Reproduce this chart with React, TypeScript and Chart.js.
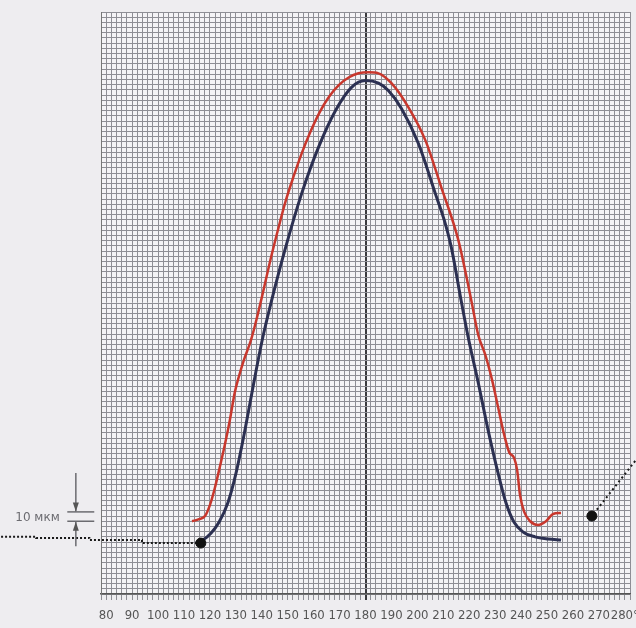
import React, { useEffect, useRef } from 'react';
import { Chart, registerables } from 'chart.js';

Chart.register(...registerables);

// ---- axis description ----
const xMin = 78;
const xMax = 282;
const xGridStep = 2;
const yMin = 0;
const yMax = 112;
const centerLineValue = 180;
const xLabelValues = [80, 90, 100, 110, 120, 130, 140, 150, 160, 170, 180, 190, 200, 210, 220, 230, 240, 250, 260, 270, 280];
const xLabelTexts = ['80', '90', '100', '110', '120', '130', '140', '150', '160', '170', '180', '190', '200', '210', '220', '230', '240', '250', '260', '270', '280°'];

// ---- profile curves (x: angle units, y: grid cells) ----
const blueX = [114.6, 117.3, 120.4, 123.5, 126.9, 130.0, 133.5, 136.9, 140.4, 143.8, 149.2, 155.4, 161.9, 168.5, 174.6, 180.0, 185.0, 188.8, 193.8, 200.4, 206.9, 210.4, 213.1, 216.5, 219.6, 223.5, 227.3, 231.2, 234.2, 237.3, 240.8, 245.4, 250.4, 255.4];
const blueY = [9.8, 10.4, 11.7, 13.8, 17.5, 23.1, 31.5, 40.6, 49.4, 56.5, 66.7, 77.1, 86.0, 93.1, 97.5, 98.8, 98.3, 96.9, 93.5, 86.7, 77.1, 71.9, 66.7, 57.5, 49.4, 40.6, 31.5, 23.1, 17.5, 13.8, 11.9, 11.0, 10.6, 10.4];

const redX = [113.1, 115.8, 118.1, 120.0, 121.9, 123.8, 125.8, 127.7, 129.6, 131.2, 133.1, 135.8, 138.1, 140.4, 143.1, 146.2, 149.2, 152.3, 155.4, 158.8, 162.3, 165.8, 169.6, 173.5, 177.3, 181.2, 185.0, 190.0, 196.5, 203.1, 209.2, 215.8, 220.8, 223.5, 226.2, 228.8, 231.2, 233.5, 235.4, 237.3, 238.5, 239.6, 241.2, 243.5, 246.5, 249.6, 252.3, 255.4];
const redY = [14.0, 14.4, 15.0, 17.1, 20.4, 24.4, 28.8, 33.5, 38.8, 41.9, 45.0, 48.8, 53.1, 57.9, 63.8, 70.0, 75.6, 80.4, 84.8, 89.0, 92.7, 95.6, 97.9, 99.4, 100.2, 100.4, 100.2, 98.3, 93.7, 87.3, 78.3, 68.1, 56.5, 49.8, 46.0, 41.2, 35.8, 30.6, 27.3, 26.2, 23.8, 19.0, 15.8, 14.0, 13.3, 14.0, 15.4, 15.6];

// ---- markers & leader lines ----
const dotX = [116.5, 267.3];
const dotY = [9.8, 15.0];
const leftLeaderX = [116.5, 93.8, 93.8, 73.5, 73.5, 53.0, 53.0, 38.0];
const leftLeaderY = [9.8, 9.8, 10.4, 10.4, 10.8, 10.8, 11.0, 11.0];
const rightLeaderX = [284.0, 267.3];
const rightLeaderY = [25.6, 15.0];

// ---- scale-bar annotation ----
const scaleText = '10 мкм';
const scaleTextX = 53.5;
const scaleTextY = 14.7;
const scaleBarX = [65.0, 75.4];
const scaleBarY = [15.8, 14.0];
const scaleArrowX = 68.3;
const scaleArrowTop = [23.3, 15.9];
const scaleArrowBottom = [9.2, 13.9];

const pts = (xs: number[], ys: number[]) => xs.map((x, i) => ({ x, y: ys[i] }));

const xGridTicks: number[] = [];
for (let v = xMin; v <= xMax; v += xGridStep) xGridTicks.push(v);

const paperPlugin = {
  id: 'paper',
  beforeDraw(chart: any) {
    const { ctx, chartArea, width, height } = chart;
    ctx.save();
    ctx.fillStyle = '#eeedf0';
    ctx.fillRect(0, 0, width, height);
    ctx.fillStyle = '#f4f3f6';
    ctx.fillRect(chartArea.left, chartArea.top, chartArea.right - chartArea.left, chartArea.bottom - chartArea.top);
    ctx.restore();
  },
  afterDraw(chart: any) {
    const { ctx } = chart;
    const xs = chart.scales.x;
    const ys = chart.scales.y;
    const px = (v: number) => xs.getPixelForValue(v);
    const py = (v: number) => ys.getPixelForValue(v);
    ctx.save();
    ctx.fillStyle = '#6b6b70';
    ctx.font = '12px "DejaVu Sans", sans-serif';
    ctx.textAlign = 'center';
    ctx.textBaseline = 'middle';
    ctx.fillText(scaleText, px(scaleTextX), py(scaleTextY));
    ctx.strokeStyle = '#6b6b70';
    ctx.lineWidth = 1.5;
    scaleBarY.forEach((yv) => {
      ctx.beginPath();
      ctx.moveTo(px(scaleBarX[0]), py(yv));
      ctx.lineTo(px(scaleBarX[1]), py(yv));
      ctx.stroke();
    });
    const ax = px(scaleArrowX);
    const drawArrow = (fromV: number, toV: number) => {
      const y1 = py(fromV);
      const y2 = py(toV);
      const dir = y2 > y1 ? 1 : -1;
      ctx.beginPath();
      ctx.moveTo(ax, y1);
      ctx.lineTo(ax, y2);
      ctx.stroke();
      ctx.beginPath();
      ctx.moveTo(ax, y2);
      ctx.lineTo(ax - 3, y2 - dir * 9);
      ctx.lineTo(ax + 3, y2 - dir * 9);
      ctx.closePath();
      ctx.fillStyle = '#555';
      ctx.fill();
    };
    drawArrow(scaleArrowTop[0], scaleArrowTop[1]);
    drawArrow(scaleArrowBottom[0], scaleArrowBottom[1]);
    ctx.restore();
  },
};

export default function App() {
  const ref = useRef<HTMLCanvasElement | null>(null);
  useEffect(() => {
    if (!ref.current) return;
    const chart = new Chart(ref.current, {
      type: 'line',
      data: {
        datasets: [
          {
            label: 'dots',
            data: pts(dotX, dotY),
            showLine: false,
            pointRadius: 5,
            pointBackgroundColor: '#111',
            pointBorderColor: '#111',
            clip: false,
          } as any,
          {
            label: 'leaderL',
            data: pts(leftLeaderX, leftLeaderY),
            borderColor: '#1a1a1a',
            borderWidth: 2,
            borderDash: [2, 2],
            pointRadius: 0,
            tension: 0,
            clip: false,
          } as any,
          {
            label: 'leaderR',
            data: pts(rightLeaderX, rightLeaderY),
            borderColor: '#1a1a1a',
            borderWidth: 2,
            borderDash: [2, 3],
            pointRadius: 0,
            tension: 0,
            clip: false,
          } as any,
          {
            label: 'red',
            data: pts(redX, redY),
            borderColor: '#c8372d',
            borderWidth: 2.5,
            pointRadius: 0,
            cubicInterpolationMode: 'monotone',
          } as any,
          {
            label: 'blue',
            data: pts(blueX, blueY),
            borderColor: '#2c3052',
            borderWidth: 3,
            pointRadius: 0,
            cubicInterpolationMode: 'monotone',
          } as any,
        ],
      },
      options: {
        animation: false,
        responsive: false,
        events: [],
        layout: { padding: { left: 101, top: 12, right: 4.6, bottom: 0 } },
        plugins: { legend: { display: false }, tooltip: { enabled: false } },
        scales: {
          x: {
            type: 'linear',
            min: xMin,
            max: xMax,
            afterBuildTicks: (scale: any) => {
              scale.ticks = xGridTicks.map((v) => ({ value: v }));
            },
            afterFit: (scale: any) => {
              scale.paddingLeft = 0;
              scale.paddingRight = 0;
              scale.height = 34;
            },
            grid: {
              color: (c: any) => (c.tick && c.tick.value === centerLineValue ? '#3a3a3e' : '#8e8e95'),
              lineWidth: (c: any) => (c.tick && c.tick.value === centerLineValue ? 2 : 1),
              drawTicks: true,
              tickLength: 6,
            },
            border: { display: true, color: '#555', width: 1.5 },
            ticks: {
              autoSkip: false,
              maxRotation: 0,
              padding: 8,
              color: '#555',
              font: { family: '"Liberation Sans Narrow", "DejaVu Sans Condensed", sans-serif', size: 13 },
              callback: (value: any) => {
                const i = xLabelValues.indexOf(Number(value));
                return i >= 0 ? xLabelTexts[i] : '';
              },
            },
          },
          y: {
            type: 'linear',
            min: yMin,
            max: yMax,
            afterFit: (scale: any) => {
              scale.width = 0;
            },
            ticks: { display: false, stepSize: 1 },
            grid: { color: '#8e8e95', lineWidth: 1, drawTicks: false },
            border: { display: true, color: '#777', width: 1 },
          },
        },
      } as any,
      plugins: [paperPlugin],
    });
    return () => chart.destroy();
  }, []);
  return (
    <div style={{ position: 'fixed', left: 0, top: 0, width: 636, height: 628 }}>
      <canvas ref={ref} width={636} height={628} style={{ width: 636, height: 628, display: 'block' }} />
    </div>
  );
}
